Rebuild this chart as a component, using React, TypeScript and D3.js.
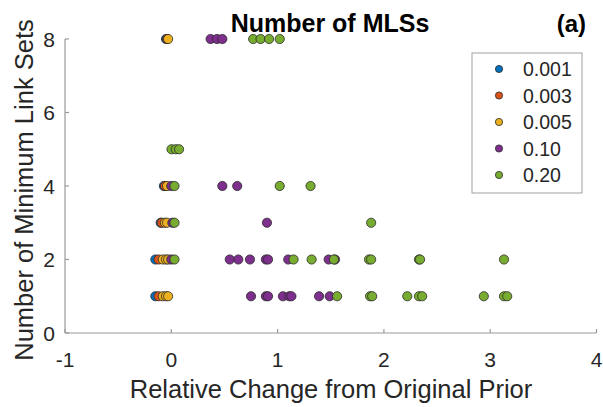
import React from "react";
import * as d3 from "d3";

const seriesNames = ["0.001", "0.003", "0.005", "0.10", "0.20"];
const seriesColors = ["#0072BD", "#D95319", "#EDB120", "#7E2F8E", "#77AC30"];

// each series: x values (relative change) and y values (number of MLSs)
const s001X = [-0.05, -0.07, -0.1, -0.15, -0.15];
const s001Y = [8, 4, 3, 2, 1];
const s003X = [-0.04, -0.06, -0.09, -0.12, -0.12];
const s003Y = [8, 4, 3, 2, 1];
const s005X = [-0.03, -0.04, -0.06, -0.04, -0.08, -0.05, -0.03, -0.08, -0.05, -0.03];
const s005Y = [8, 4, 3, 3, 2, 2, 2, 1, 1, 1];
const s010X = [0.37, 0.43, 0.48, 0.0, 0.48, 0.62, 0.01, 0.9, 0.0, 0.55, 0.63, 0.74, 0.89, 0.91, 1.1, 1.48, 1.54, 0.75, 0.89, 0.91, 1.05, 1.11, 1.13, 1.39, 1.49];
const s010Y = [8, 8, 8, 4, 4, 4, 3, 3, 2, 2, 2, 2, 2, 2, 2, 2, 2, 1, 1, 1, 1, 1, 1, 1, 1];
const s020X = [0.77, 0.84, 0.92, 1.02, 0.002, 0.042, 0.073, 0.03, 1.02, 1.31, 0.03, 1.88, 0.03, 1.15, 1.32, 1.53, 1.86, 1.88, 2.33, 2.34, 3.13, 1.56, 1.87, 1.89, 2.22, 2.33, 2.36, 2.94, 3.13, 3.16];
const s020Y = [8, 8, 8, 8, 5, 5, 5, 4, 4, 4, 3, 3, 2, 2, 2, 2, 2, 2, 2, 2, 2, 1, 1, 1, 1, 1, 1, 1, 1, 1];

const allX = [s001X, s003X, s005X, s010X, s020X];
const allY = [s001Y, s003Y, s005Y, s010Y, s020Y];

const xTicks = [-1, 0, 1, 2, 3, 4];
const yTicks = [0, 2, 4, 6, 8];

const title = "Number of MLSs";
const panelLabel = "(a)";
const xLabel = "Relative Change from Original Prior";
const yLabel = "Number of Minimum Link Sets";

const FONT = "'Liberation Sans', Arial, Helvetica, sans-serif";

export default function App() {
  const W = 603;
  const H = 407;
  const x = d3.scaleLinear().domain([-1, 4]).range([65, 596.5]);
  const y = d3.scaleLinear().domain([0, 8]).range([333, 39]);
  const axisColor = "#9a9a9a";
  const textColor = "#262626";
  const tickLen = 4;

  const legendX = 472;
  const legendY = 53;
  const legendW = 110;
  const legendH = 140;
  const legendRows = seriesNames.map((_, i) => legendY + 16 + i * 26.5);

  return (
    <svg width={W} height={H} style={{ position: "absolute", left: 0, top: 0, background: "#fff" }}>
      <rect x={0} y={0} width={W} height={H} fill="#fff" />
      {/* axes */}
      <line x1={x(-1)} x2={x(4)} y1={y(0)} y2={y(0)} stroke={axisColor} strokeWidth={1.2} />
      <line x1={x(-1)} x2={x(-1)} y1={y(0)} y2={y(8)} stroke={axisColor} strokeWidth={1.2} />
      {xTicks.map((t) => (
        <g key={"xt" + t}>
          <line x1={x(t)} x2={x(t)} y1={y(0)} y2={y(0) - tickLen} stroke={axisColor} strokeWidth={1.2} />
          <text x={x(t)} y={367} textAnchor="middle" fontFamily={FONT} fontSize={21} fill={textColor}>
            {t}
          </text>
        </g>
      ))}
      {yTicks.map((t) => (
        <g key={"yt" + t}>
          <line x1={x(-1)} x2={x(-1) + tickLen} y1={y(t)} y2={y(t)} stroke={axisColor} strokeWidth={1.2} />
          <text x={55} y={y(t)} dy="0.36em" textAnchor="end" fontFamily={FONT} fontSize={21} fill={textColor}>
            {t}
          </text>
        </g>
      ))}
      {/* points */}
      {allX.map((xs, si) => (
        <g key={"s" + si}>
          {xs.map((xv, i) => (
            <circle
              key={i}
              cx={x(xv)}
              cy={y(allY[si][i])}
              r={4.6}
              fill={seriesColors[si]}
              stroke="#2a2a2a"
              strokeWidth={0.8}
            />
          ))}
        </g>
      ))}
      {/* labels */}
      <text x={330} y={32} textAnchor="middle" fontFamily={FONT} fontWeight="bold" fontSize={25} fill="#000">
        {title}
      </text>
      <text x={586} y={32} textAnchor="end" fontFamily={FONT} fontWeight="bold" fontSize={24} fill="#000">
        {panelLabel}
      </text>
      <text x={331} y={398} textAnchor="middle" fontFamily={FONT} fontSize={25.5} fill={textColor}>
        {xLabel}
      </text>
      <text
        transform={`translate(33,190) rotate(-90)`}
        textAnchor="middle"
        fontFamily={FONT}
        fontSize={25.5}
        fill={textColor}
      >
        {yLabel}
      </text>
      {/* legend */}
      <rect x={legendX} y={legendY} width={legendW} height={legendH} fill="#fff" stroke="#a0a0a0" strokeWidth={1} />
      {seriesNames.map((n, i) => (
        <g key={"lg" + i}>
          <circle cx={499} cy={legendRows[i]} r={3.6} fill={seriesColors[i]} stroke="#2a2a2a" strokeWidth={0.8} />
          <text x={523} y={legendRows[i]} dy="0.36em" fontFamily={FONT} fontSize={19.5} fill={textColor}>
            {n}
          </text>
        </g>
      ))}
    </svg>
  );
}
